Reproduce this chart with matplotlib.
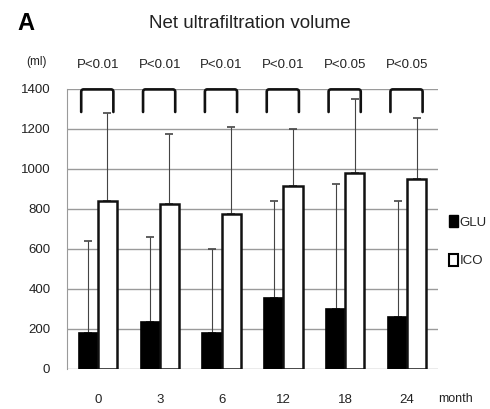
import numpy as np
import matplotlib
matplotlib.use("Agg")
import matplotlib.pyplot as plt
from matplotlib.patches import Patch

plt.rcParams['font.family'] = ['Liberation Sans', 'DejaVu Sans']

months = ['0', '3', '6', '12', '18', '24']
glu = [180, 235, 178, 355, 300, 260]
glu_err = [460, 425, 422, 485, 625, 580]
ico = [840, 825, 775, 915, 980, 950]
ico_err = [440, 350, 435, 285, 370, 305]
pvals = ['P<0.01', 'P<0.01', 'P<0.01', 'P<0.01', 'P<0.05', 'P<0.05']

fig = plt.figure(figsize=(4.9, 4.09), dpi=100)
ax = fig.add_axes([0.1367, 0.0978, 0.7573, 0.6846])

x = np.arange(len(months))
w = 0.31
txt = '#222222'

ax.bar(x - w/2, glu, w, color='black', edgecolor='black', linewidth=1.2, zorder=3)
ax.bar(x + w/2, ico, w, color='white', edgecolor='#111111', linewidth=1.8, zorder=3)
ax.errorbar(x - w/2, glu, yerr=[np.zeros(6), glu_err], fmt='none', ecolor='#444444',
            elinewidth=0.8, capsize=3, capthick=1.2, zorder=2)
ax.errorbar(x + w/2, ico, yerr=[np.zeros(6), ico_err], fmt='none', ecolor='#444444',
            elinewidth=0.8, capsize=3, capthick=1.2, zorder=2)

# significance brackets with slightly rounded corners
t = np.linspace(0, np.pi / 2, 6)
rx, ry = 0.035, 11
for i in x:
    xl, xr, yb, yt = i - 0.27, i + 0.25, 1285, 1398
    bx = np.concatenate([[xl], xl + rx - rx * np.cos(t), xr - rx + rx * np.sin(t), [xr]])
    by = np.concatenate([[yb], yt - ry + ry * np.sin(t), yt - ry + ry * np.cos(t), [yb]])
    ax.plot(bx, by, color='#111111', lw=1.9, solid_capstyle='round',
            clip_on=False, zorder=4)
    ax.text(i, 1520, pvals[i], ha='center', va='center', fontsize=9.5, color=txt)

ax.set_xlim(-0.5, 5.5)
ax.set_ylim(0, 1400)
ax.set_yticks(range(0, 1401, 200))
ax.set_xticks(x)
ax.set_xticklabels(months)
ax.yaxis.grid(True, color='#9a9a9a', lw=1)
ax.set_axisbelow(True)
for s in ['top', 'right', 'bottom']:
    ax.spines[s].set_visible(False)
ax.spines['left'].set_color('#9a9a9a')
ax.tick_params(length=0, labelsize=9.5, colors=txt)
ax.tick_params(axis='x', pad=18)
ax.tick_params(axis='y', pad=12)

fig.text(0.035, 0.943, 'A', fontsize=17, fontweight='bold', ha='left', va='center')
fig.text(0.51, 0.943, 'Net ultrafiltration volume', fontsize=13.5, ha='center',
         va='center', color=txt)
fig.text(0.075, 0.848, '(ml)', fontsize=8.5, ha='center', va='center', color=txt)
fig.text(0.93, 0.025, 'month', fontsize=9, ha='center', va='center', color=txt)

handles = [Patch(facecolor='black', edgecolor='black'),
           Patch(facecolor='white', edgecolor='black', linewidth=1.5)]
fig.legend(handles, ['GLU', 'ICO'], loc='center left', bbox_to_anchor=(0.905, 0.41),
           frameon=False, handlelength=0.7, handleheight=1.0, handletextpad=0.1,
           labelspacing=1.9, fontsize=9.5, labelcolor=txt, borderaxespad=0)

fig.savefig('out.png', dpi=100)
